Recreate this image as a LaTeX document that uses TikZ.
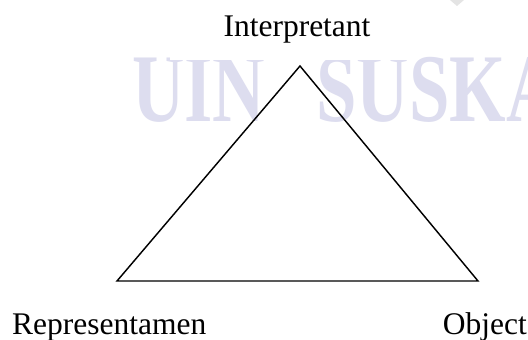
\documentclass[tikz,border=0pt]{standalone}
\usepackage{fontspec}
\setmainfont{Liberation Serif}
\definecolor{wmark}{RGB}{221,221,239}
\definecolor{wgray}{RGB}{228,228,228}
\begin{document}
\begin{tikzpicture}[x=1pt,y=1pt,
  lbl/.style={inner sep=0pt,font=\fontsize{31.5}{36}\selectfont},
  wm/.style={inner sep=0pt,anchor=base west,text=wmark,xscale=0.75,
    font=\fontsize{97}{100}\selectfont\bfseries},
  edge/.style={draw=black,line width=1.45pt,line join=miter}]
\useasboundingbox (0,0) rectangle (528,340);
\fill[white] (0,0) rectangle (528,340);
% watermark
\node[wm] (w1) at (132,218) {UIN};
\node[wm] (w2) at (316,218) {SUSKA};
\fill[wgray] (450,340) -- (464,340) -- (457,334) -- cycle;
\fill[white] (170,280) rectangle (419,340);
% triangle
\coordinate (I) at (300,274);
\coordinate (R) at (117,59);
\coordinate (O) at (478,59);
\draw[edge] (I) -- (O) -- (R) -- cycle;
% labels
\node[lbl,anchor=base] (li) at (297,303) {Interpretant};
\node[lbl,anchor=base west] (lr) at (12,5.5) {Representamen};
\node[lbl,anchor=base east] (lo) at (527,5.5) {Object};
\end{tikzpicture}
\end{document}
